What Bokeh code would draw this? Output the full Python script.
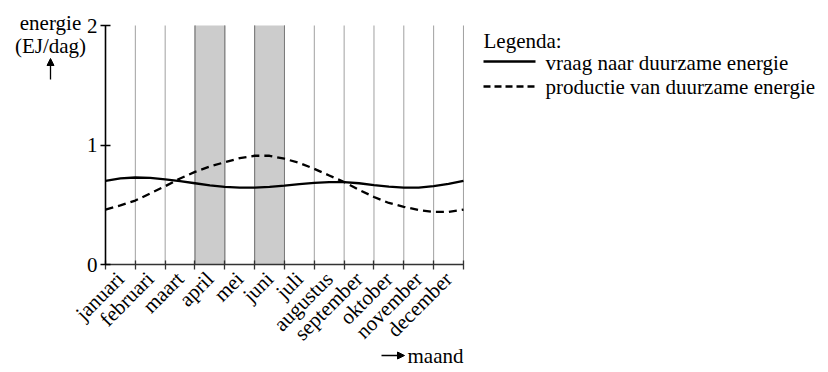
import math
from bokeh.plotting import figure
from bokeh.models import FixedTicker, Arrow, NormalHead, Range1d
from bokeh.core.properties import value
from bokeh.embed import file_html
from bokeh.resources import INLINE

# ---- data ----
months = ["januari", "februari", "maart", "april", "mei", "juni", "juli",
          "augustus", "september", "oktober", "november", "december"]
month_centers = [0.5, 1.5, 2.5, 3.5, 4.5, 5.5, 6.5, 7.5, 8.5, 9.5, 10.5, 11.5]
month_bounds = [0, 1, 2, 3, 4, 5, 6, 7, 8, 9, 10, 11, 12]
grid_lines = [1, 2, 3, 4, 5, 6, 7, 8, 9, 10, 11, 12]
shade_left = [3, 5]
shade_right = [4, 6]
y_ticks = [0, 1, 2]

t = [0.0, 0.5, 1.0, 1.5, 2.0, 2.5, 3.0, 3.5, 4.0, 4.5, 5.0, 5.5, 6.0,
     6.5, 7.0, 7.5, 8.0, 8.5, 9.0, 9.5, 10.0, 10.5, 11.0, 11.5, 12.0]
vraag = [0.700, 0.720, 0.728, 0.725, 0.712, 0.697, 0.680, 0.662, 0.650,
         0.643, 0.643, 0.650, 0.660, 0.672, 0.683, 0.690, 0.690, 0.680,
         0.665, 0.652, 0.643, 0.643, 0.655, 0.675, 0.700]
productie = [0.460, 0.495, 0.535, 0.595, 0.655, 0.720, 0.775, 0.820, 0.856,
             0.890, 0.910, 0.910, 0.885, 0.850, 0.800, 0.745, 0.690, 0.625,
             0.565, 0.515, 0.483, 0.455, 0.440, 0.440, 0.460]

y_title = ["energie", "(EJ/dag)"]
x_title = "maand"
legend_title = "Legenda:"
legend_labels = ["vraag naar duurzame energie", "productie van duurzame energie"]

FONT = "Liberation Serif"
FS = "21px"

W, H = 826, 370
X0, Y0 = 105, 264          # pixel position of data origin
SX, SY = 29.83, 119.5      # pixels per month / per EJ


p = figure(width=W, height=H,
           x_range=Range1d(-X0 / SX, (W - X0) / SX),
           y_range=Range1d((Y0 - H) / SY, Y0 / SY),
           output_backend="svg", toolbar_location=None, min_border=0)
p.outline_line_color = None
p.grid.visible = False

# shaded months and month boundary lines
p.quad(left=shade_left, right=shade_right, bottom=0, top=2,
       fill_color="#cccccc", line_color=None)
p.segment(x0=grid_lines, y0=0, x1=grid_lines, y1=2,
          line_color="#a0a0a0", line_width=1)
p.segment(x0=shade_left + shade_right, y0=0, x1=shade_left + shade_right, y1=2,
          line_color="#7a7a7a", line_width=1)

# curves
p.line(t, vraag, line_color="black", line_width=2.3)
p.line(t, productie, line_color="black", line_width=2.3, line_dash="8 5")

# y axis
ya = p.yaxis[0]
ya.fixed_location = 0
ya.bounds = (0, 2)
ya.ticker = FixedTicker(ticks=y_ticks)
ya.axis_line_color = "black"
ya.axis_line_width = 1.6
ya.major_tick_in = 5
ya.major_tick_out = 5
ya.major_tick_line_color = "black"
ya.major_tick_line_width = 1.3
ya.minor_tick_line_color = None
ya.major_label_text_font = FONT
ya.major_label_text_font_size = FS
ya.major_label_text_color = "black"
ya.major_label_standoff = 3

# x axis
xa = p.xaxis[0]
xa.fixed_location = 0
xa.bounds = (0, 12)
xa.ticker = FixedTicker(ticks=month_centers, minor_ticks=month_bounds)
xa.major_label_overrides = {c: m for c, m in zip(month_centers, months)}
xa.major_tick_line_color = None
xa.major_tick_in = 0
xa.major_tick_out = 0
xa.minor_tick_in = 4
xa.minor_tick_out = 5
xa.minor_tick_line_color = "#333333"
xa.minor_tick_line_width = 1.3
xa.axis_line_color = "#333333"
xa.axis_line_width = 1.6
xa.major_label_orientation = math.pi / 4
xa.major_label_standoff = 6
xa.major_label_text_font = FONT
xa.major_label_text_font_size = FS
xa.major_label_text_color = "black"


def px(xp):
    return (xp - X0) / SX


def py(yp):
    return (Y0 - yp) / SY


def txt(xs, ys, texts, align="left"):
    p.text(x=[px(v) for v in xs], y=[py(v) for v in ys], text=texts,
           text_font=value(FONT), text_font_size=value(FS), text_color="black",
           text_align=align, text_baseline="middle")


def arrow(x0, y0, x1, y1):
    p.add_layout(Arrow(x_start=px(x0), y_start=py(y0), x_end=px(x1), y_end=py(y1),
                       line_width=1.3, line_color="black",
                       end=NormalHead(size=7, fill_color="black", line_color="black")))


# y-axis title
txt([50, 50], [22, 45], y_title, "center")
arrow(50, 79, 50, 58)

# x-axis title
arrow(381, 355, 404, 355)
txt([407], [355], [x_title])

# legend
txt([483], [40], [legend_title])
p.line([px(483), px(535)], [py(61), py(61)], line_color="black", line_width=2.3)
p.line([px(483), px(535)], [py(86), py(86)], line_color="black", line_width=2.3,
       line_dash="7 4")
txt([545, 545], [62, 86], legend_labels)

open("out.html", "w").write(file_html(p, INLINE))
